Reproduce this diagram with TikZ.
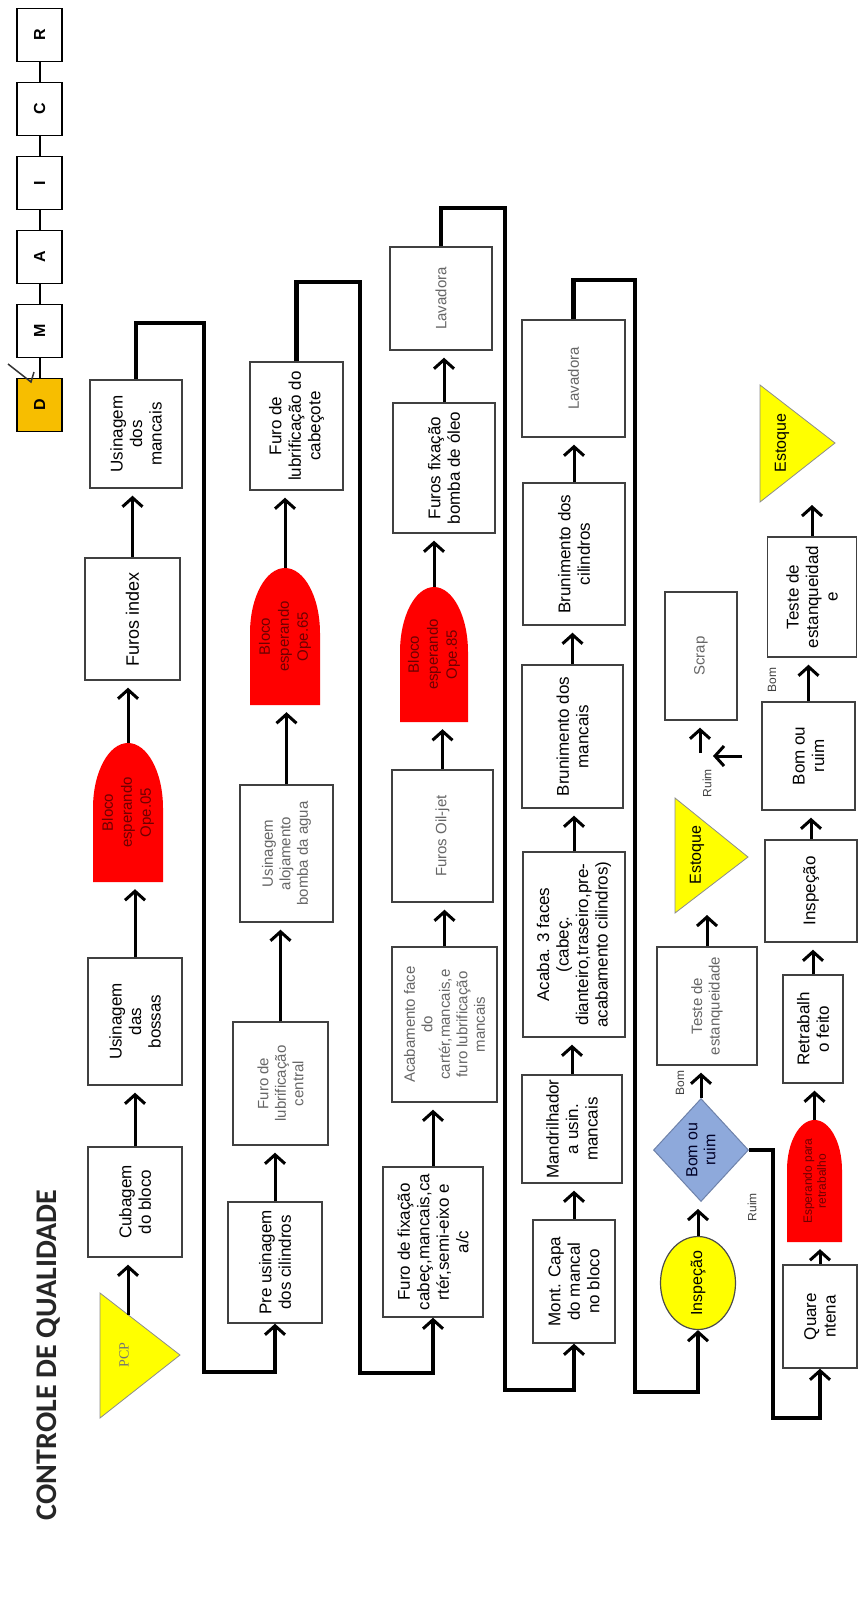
\documentclass[tikz,border=0pt]{standalone}
\usepackage{fontspec}
\setmainfont{Liberation Sans}
\newfontfamily\titlefont{Carlito}
\newfontfamily\pcpfont{Liberation Serif}
\usetikzlibrary{arrows.meta,shapes.geometric,calc}
\definecolor{yfill}{RGB}{255,255,0}
\definecolor{redf}{RGB}{255,0,0}
\definecolor{redtx}{RGB}{110,0,0}
\definecolor{dblue}{RGB}{142,169,219}
\definecolor{dbline}{RGB}{110,130,170}
\definecolor{dmorange}{RGB}{247,190,0}
\begin{document}
\begin{tikzpicture}[x=1pt,y=-1pt,
 box/.style={draw=black!75,line width=1.4pt,fill=white,rotate=90,align=center,inner sep=1pt,font=\fontsize{17}{19.5}\selectfont},
 lt/.style={text=black!60,font=\fontsize{15}{17.5}\selectfont},
 redt/.style={rotate=90,align=center,inner sep=0pt,text=redtx,font=\fontsize{15}{19}\selectfont},
 tri/.style={fill=yfill,draw=black!45,line width=0.8pt},
 arr/.style={line width=3pt,-{Straight Barb[length=9pt,width=20pt,line width=3pt]},shorten >=7pt},
 conn/.style={line width=4.5pt,-{Straight Barb[length=9pt,width=20pt,line width=3pt]}},
 lab/.style={rotate=90,font=\fontsize{12}{14}\selectfont,text=black!75,inner sep=0pt},
 dm/.style={draw=black,line width=1.6pt,fill=white,rotate=90,minimum width=53,minimum height=45,font=\bfseries\fontsize{16}{18}\selectfont,inner sep=0pt},
]
\fill[white] (0,0) rectangle (858,1610);
\useasboundingbox (0,0) rectangle (858,1610);

% title
\node[rotate=90,font=\titlefont\bfseries\fontsize{30}{31}\selectfont,text=black!85] (title) at (49,1355) {CONTROLE DE QUALIDADE};

% DMAIC
\node[dm] (dR) at (39.5,35) {R};
\node[dm] (dC) at (39.5,109) {C};
\node[dm] (dI) at (39.5,183) {I};
\node[dm] (dA) at (39.5,257) {A};
\node[dm] (dM) at (39.5,331) {M};
\node[dm,fill=dmorange] (dD) at (39.5,405) {D};
\foreach \a/\b in {dR/dC,dC/dI,dI/dA,dA/dM,dM/dD} \draw[line width=2pt] (\a.west) -- (\b.east);
\coordinate (ck1) at (8,364);
\coordinate (ck2) at (31,382);
\coordinate (ck3) at (34,372);
\draw[line width=1.5pt,black!80] (ck1) -- (ck2) -- (ck3);

% column 2
\filldraw[tri] (100,1293) -- (180,1355) -- (100,1418) -- cycle;
\node[rotate=90,font=\pcpfont\fontsize{14}{16}\selectfont,text=black!55] (pcp) at (124,1355) {PCP};
\coordinate (pcpo) at (128,1315);
\node[box,minimum width=110,minimum height=94] (cub) at (135,1202) {Cubagem\\do bloco};
\node[box,minimum width=127,minimum height=94] (boss) at (135,1021.5) {Usinagem\\das\\bossas};
\fill[redf] (93,882) -- (93,808) arc[start angle=180,end angle=0,x radius=35pt,y radius=65pt] -- (163,882) -- cycle;
\node[redt,minimum width=139,minimum height=70] (r1) at (128,812.5) {Bloco\\esperando\\Ope.05};
\node[box,font=\fontsize{18}{20}\selectfont,minimum width=122,minimum height=95] (idx) at (132.5,619) {Furos index};
\node[box,minimum width=108,minimum height=92] (manc) at (136,434) {Usinagem\\dos\\mancais};

% column 3
\node[box,minimum width=121,minimum height=94] (pre) at (275,1262.5) {Pre usinagem\\dos cilindros};
\node[box,lt,minimum width=123,minimum height=95] (flc) at (280.5,1083.5) {Furo de\\lubrificação\\central};
\node[box,lt,minimum width=137,minimum height=93] (alo) at (286.5,853.5) {Usinagem\\alojamento\\bomba da agua};
\fill[redf] (250,705) -- (250,633) arc[start angle=180,end angle=0,x radius=35pt,y radius=65pt] -- (320,705) -- cycle;
\node[redt,minimum width=137,minimum height=70] (r2) at (285,636.5) {Bloco\\esperando\\Ope.65};
\node[box,minimum width=128,minimum height=93] (cab) at (296.5,426) {Furo de\\lubrificação do\\cabeçote};

% column 4
\node[box,minimum width=150,minimum height=100] (ffx) at (433,1242) {Furo de fixação\\cabeç,mancais,ca\\rtér,semi-eixo e\\a/c};
\node[box,lt,minimum width=155,minimum height=105] (acf) at (444.5,1024.5) {Acabamento face\\do\\cartér,mancais,e\\furo lubrificação\\mancais};
\node[box,lt,minimum width=132,minimum height=101] (oil) at (442.5,836) {Furos Oil-jet};
\fill[redf] (400,722) -- (400,652) arc[start angle=180,end angle=0,x radius=34pt,y radius=65pt] -- (468,722) -- cycle;
\node[redt,minimum width=135,minimum height=68] (r3) at (434,654.5) {Bloco\\esperando\\Ope.85};
\node[box,minimum width=130,minimum height=102] (fbo) at (444,468) {Furos fixação\\bomba de óleo};
\node[box,lt,minimum width=103,minimum height=102] (lav1) at (441,298.5) {Lavadora};

% column 5
\node[box,minimum width=123,minimum height=82] (mon) at (574,1281.5) {Mont. Capa\\do mancal\\no bloco};
\node[box,minimum width=108,minimum height=100] (man) at (572,1129) {Mandrilhador\\a usin.\\mancais};
\node[box,minimum width=185,minimum height=102] (ac3) at (574,944.5) {Acaba. 3 faces\\(cabeç.\\dianteiro,traseiro,pre-\\acabamento cilindros)};
\node[box,minimum width=143,minimum height=101] (brm) at (572.5,736.5) {Brunimento dos\\mancais};
\node[box,minimum width=142,minimum height=102] (brc) at (574,554) {Brunimento dos\\cilindros};
\node[box,lt,minimum width=117,minimum height=103] (lav2) at (573.5,378.5) {Lavadora};

% column 6
\node[draw=black!70,line width=1.2pt,fill=yfill,ellipse,rotate=90,minimum width=93,minimum height=75,inner sep=0pt,font=\fontsize{16}{18}\selectfont] (insp1) at (698,1283) {Inspeção};
\node[draw=dbline,line width=1pt,fill=dblue,diamond,rotate=90,minimum width=103,minimum height=95,inner sep=0pt,align=center,font=\fontsize{16}{18}\selectfont,text=black!85!blue] (dia) at (701,1150) {Bom ou\\ruim};
\node[box,lt,minimum width=118,minimum height=100] (tst1) at (707,1006) {Teste de\\estanqueidade};
\filldraw[tri] (675,798) -- (748,857) -- (675,913) -- cycle;
\node[rotate=90,font=\fontsize{16}{18}\selectfont] (est1) at (697,855) {Estoque};
\coordinate (e1in) at (698,915);
\node[box,lt,minimum width=128,minimum height=72] (scr) at (701,656) {Scrap};

% column 7
\node[box,minimum width=103,minimum height=74] (qua) at (820,1316.5) {Quare\\ntena};
\fill[redf] (787,1242) -- (787,1170) arc[start angle=180,end angle=0,x radius=27.5pt,y radius=50pt] -- (842,1242) -- cycle;
\node[redt,font=\fontsize{12}{14}\selectfont,minimum width=122,minimum height=55] (r4) at (814.5,1181) {Esperando para\\retrabalho};
\node[box,minimum width=108,minimum height=60] (ret) at (813,1029) {Retrabalh\\o feito};
\node[box,minimum width=102,minimum height=92] (insp2) at (811,891) {Inspeção};
\node[box,minimum width=108,minimum height=93] (bor) at (808.5,756) {Bom ou\\ruim};
\node[box,minimum width=120,minimum height=89] (tst2) at (812,597) {Teste de\\estanqueidad\\e};
\filldraw[tri] (760,385) -- (835,443) -- (760,502) -- cycle;
\node[rotate=90,font=\fontsize{16}{18}\selectfont] (est2) at (782,443) {Estoque};
\coordinate (e2in) at (800,505);

% labels
\node[lab] (lb1) at (680,1083) {Bom};
\node[lab] (lb2) at (752,1207) {Ruim};
\node[lab] (lb3) at (707,783) {Ruim};
\node[lab] (lb4) at (772,680) {Bom};

% arrows inside columns
\draw[arr] (pcpo) -- (pcpo |- cub.west);
\foreach \a/\b in {cub/boss,boss/r1,r1/idx,idx/manc,pre/flc,flc/alo,alo/r2,r2/cab,ffx/acf,acf/oil,oil/r3,r3/fbo,fbo/lav1,mon/man,man/ac3,ac3/brm,brm/brc,brc/lav2,insp1/dia,dia/tst1,qua/r4,r4/ret,ret/insp2,insp2/bor,bor/tst2}
  \draw[arr] (\a.east) -- (\a.east |- \b.west);
\draw[arr,shorten >=0pt] (tst1.east) -- (tst1.east |- e1in);
\draw[arr,shorten >=0pt] (tst2.east) -- (tst2.east |- e2in);
\coordinate (rb) at (713,755);
\draw[arr,shorten <=19pt,shorten >=0pt] (bor.north) -- (bor.north -| rb);
\coordinate (ru) at (700,753);
\draw[arr] (ru) -- (ru |- scr.west);

% long connectors
\coordinate (k11) at (204,323); \coordinate (k12) at (204,1372);
\draw[conn] (manc.east) |- (k11) -- (k12) -| (pre.west);
\coordinate (k21) at (360,282); \coordinate (k22) at (360,1373);
\draw[conn] (cab.east) |- (k21) -- (k22) -| (ffx.west);
\coordinate (k31) at (505,208); \coordinate (k32) at (505,1390);
\draw[conn] (lav1.east) |- (k31) -- (k32) -| (mon.west);
\coordinate (k41) at (635,280); \coordinate (k42) at (635,1392);
\draw[conn] (lav2.east) |- (k41) -- (k42) -| (insp1.west);
\coordinate (k51) at (773,1150); \coordinate (k52) at (773,1418);
\draw[conn,line width=3.5pt] (dia.south) -- (k51) -- (k52) -| (qua.west);
\end{tikzpicture}
\end{document}
